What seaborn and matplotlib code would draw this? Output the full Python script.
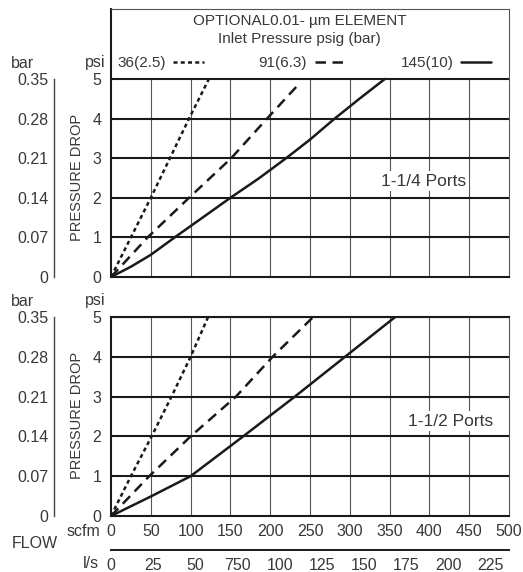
import matplotlib
matplotlib.use("Agg")
import matplotlib.pyplot as plt
import seaborn as sns

# Inlet pressure psig (bar)
pressures = ["36(2.5)", "91(6.3)", "145(10)"]

# 1-1/4 ports : flow (scfm) vs pressure drop (psi)
p14_36_flow = [0, 25, 50, 74, 98, 123]
p14_36_psi = [0, 1, 2, 3, 4, 5]
p14_91_flow = [0, 46, 98, 151, 196, 235]
p14_91_psi = [0, 1, 2, 3, 4, 4.85]
p14_145_flow = [0, 25, 50, 80, 115, 150, 185, 220, 250, 281, 312, 344]
p14_145_psi = [0, 0.26, 0.56, 1, 1.5, 2, 2.48, 3, 3.47, 4, 4.5, 5]

# 1-1/2 ports
p12_36_flow = [0, 25, 51, 76, 100, 122]
p12_36_psi = [0, 1, 2, 3, 4, 5]
p12_91_flow = [0, 48, 100, 157, 203, 254]
p12_91_psi = [0, 1, 2, 3, 4, 5]
p12_145_flow = [0, 50, 100, 166, 231, 294, 357]
p12_145_psi = [0, 0.49, 1, 2, 3, 4, 5]

# axes
scfm_ticks = [0, 50, 100, 150, 200, 250, 300, 350, 400, 450, 500]
psi_ticks = [0, 1, 2, 3, 4, 5]
bar_ticks = [0, 0.07, 0.14, 0.21, 0.28, 0.35]
bar_labels = ["0", "0.07", "0.14", "0.21", "0.28", "0.35"]
ls_ticks = [0, 25, 50, 75, 100, 125, 150, 175, 200, 225]
ls_labels = ["0", "25", "50", "750", "100", "125", "150", "175", "200", "225"]
SCFM_PER_LS = 2.119

sns.set_style("white")
plt.rcParams["font.family"] = ["Liberation Sans", "DejaVu Sans"]
plt.rcParams["font.size"] = 11

W, H = 523, 572
TXT = "#383838"
INK = "#1a1a1a"
FS = 11.5


def box(left, top, right, bottom):
    return [left / W, 1 - bottom / H, (right - left) / W, (bottom - top) / H]


styles = [(0, (1.6, 1.3)), (0, (4.2, 2.6)), "-"]

fig = plt.figure(figsize=(W / 100, H / 100), dpi=100)

ax1 = fig.add_axes(box(111, 9, 509, 277))
ax2 = fig.add_axes(box(111, 317, 509, 516))

panels = [
    (ax1, [(p14_36_flow, p14_36_psi), (p14_91_flow, p14_91_psi), (p14_145_flow, p14_145_psi)],
     "1-1/4 Ports", 424, 181, (277 - 9) / 39.6),
    (ax2, [(p12_36_flow, p12_36_psi), (p12_91_flow, p12_91_psi), (p12_145_flow, p12_145_psi)],
     "1-1/2 Ports", 451, 421, 5),
]

for ax, series, port_label, lx, ly, ytop in panels:
    for (fx, fy), name, ls in zip(series, pressures, styles):
        sns.lineplot(x=fx, y=fy, ax=ax, color=INK, lw=1.8, label=name,
                     legend=False, zorder=4, sort=False, estimator=None)
        ax.lines[-1].set_linestyle(ls)
    ax.set_xlim(0, 500)
    ax.set_ylim(0, ytop)
    # grid
    ax.vlines(scfm_ticks[1:-1], 0, 5, color="#555555", lw=0.8, zorder=1)
    ax.hlines(psi_ticks[1:], 0, 500, color=INK, lw=1.5, zorder=2)
    ax.set_yticks(psi_ticks)
    ax.tick_params(axis="y", length=0, pad=7, labelcolor=TXT, labelsize=FS)
    for s in ["left", "bottom"]:
        ax.spines[s].set_color(INK)
        ax.spines[s].set_linewidth(1.5)
    for s in ["right", "top"]:
        ax.spines[s].set_color("#555555")
        ax.spines[s].set_linewidth(0.8)
    ax.set_xlabel("")
    ax.set_ylabel("")
    # port label over the grid
    fig.text(lx / W, 1 - ly / H, port_label, ha="center", va="center", color=TXT,
             fontsize=12.5, zorder=5,
             bbox=dict(facecolor="white", edgecolor="none", pad=1.5))

ax2.spines["top"].set_color(INK)
ax2.spines["top"].set_linewidth(1.5)
ax1.set_xticks([])
ax2.set_xticks(scfm_ticks)
ax2.tick_params(axis="x", length=0, pad=6, labelcolor=TXT, labelsize=FS)

# header of the top panel
ax1.text(237, 6.46, "OPTIONAL0.01- µm ELEMENT", ha="center", va="center", color=TXT, fontsize=11)
ax1.text(237, 6.01, "Inlet Pressure psig (bar)", ha="center", va="center", color=TXT, fontsize=11)
ax1.legend(loc="center left", bbox_to_anchor=(117 / W, 1 - 63 / H),
           bbox_transform=fig.transFigure, ncol=3, frameon=False, markerfirst=False,
           handlelength=2.0, handletextpad=0.5, columnspacing=3.6,
           borderpad=0, borderaxespad=0, fontsize=11, labelcolor=TXT)

# bar scale and side labels
for top, bottom in [(79, 277), (317, 516)]:
    axb = fig.add_axes(box(54, top, 54.01, bottom))
    axb.set_ylim(0, 0.35)
    axb.set_yticks(bar_ticks)
    axb.set_yticklabels(bar_labels)
    axb.set_xticks([])
    for s in ["right", "top", "bottom"]:
        axb.spines[s].set_visible(False)
    axb.spines["left"].set_color("#444444")
    axb.spines["left"].set_linewidth(1.0)
    axb.tick_params(axis="y", direction="in", length=3.5, width=1.0, color="#444444",
                    pad=4, labelcolor=TXT, labelsize=FS)
    axb.patch.set_alpha(0)
    fig.text(22 / W, 1 - (top - 16) / H, "bar", ha="center", va="center", color=TXT, fontsize=FS)
    fig.text(95 / W, 1 - (top - 16) / H, "psi", ha="center", va="center", color=TXT, fontsize=FS)
    fig.text(77 / W, 1 - ((top + bottom) / 2 - 1) / H, "PRESSURE DROP", rotation=90,
             ha="center", va="center", color=TXT, fontsize=10.5)

# flow axis in l/s
axf = fig.add_axes(box(111, 549.99, 509, 550))
axf.set_xlim(0, 500 / SCFM_PER_LS)
axf.set_yticks([])
for s in ["right", "top", "left"]:
    axf.spines[s].set_visible(False)
axf.spines["bottom"].set_color(INK)
axf.spines["bottom"].set_linewidth(1.4)
axf.set_xticks(ls_ticks)
axf.set_xticklabels(ls_labels)
axf.set_xticks([t / SCFM_PER_LS for t in scfm_ticks], minor=True)
axf.tick_params(axis="x", which="major", direction="out", length=4, width=1.0,
                color=INK, pad=1.5, labelcolor=TXT, labelsize=FS)
axf.tick_params(axis="x", which="minor", direction="in", length=5, width=1.0, color=INK)
axf.patch.set_alpha(0)

fig.text(100 / W, 1 - 532 / H, "scfm", ha="right", va="center", color=TXT, fontsize=FS)
fig.text(35 / W, 1 - 543 / H, "FLOW", ha="center", va="center", color=TXT, fontsize=FS)
fig.text(99 / W, 1 - 563 / H, "l/s", ha="right", va="center", color=TXT, fontsize=FS)

fig.savefig("out.png", dpi=100)
